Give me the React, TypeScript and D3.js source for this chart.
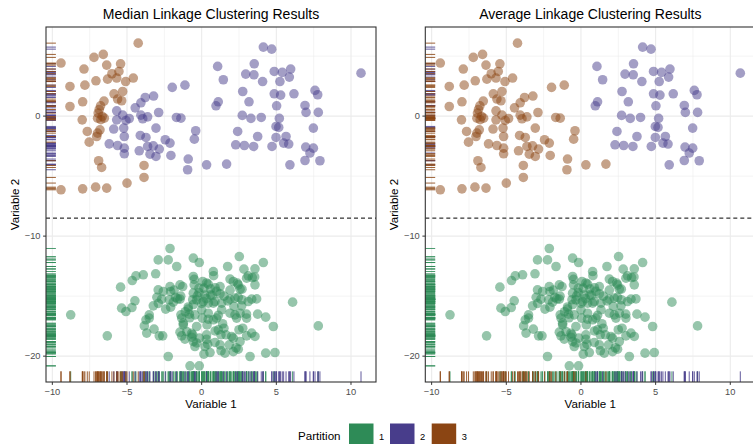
import * as d3 from "d3";
import React from "react";

// cluster 1 (green in both panels)
const greenPts: [number, number][] = [
  [-8.77, -16.56], [-6.32, -18.31], [-5.43, -14.25], [-5.36, -16.0], [-5.07, -16.28], [-4.47, -15.39],
  [-4.65, -13.7], [-4.4, -13.31], [-3.91, -13.22], [-3.84, -17.48], [-3.68, -18.08], [-3.51, -16.83],
  [-3.19, -17.75], [-3.08, -13.14], [-2.91, -11.98], [-2.91, -14.48], [-3.24, -15.81], [-2.84, -18.31],
  [-2.61, -18.31], [-2.68, -15.25], [-2.41, -16.08], [-2.24, -11.98], [-2.12, -11.03], [-2.24, -20.03],
  [-2.08, -14.61], [-2.08, -15.92], [-1.67, -12.53], [-1.45, -14.06], [-1.27, -14.2], [-1.45, -15.25],
  [-1.34, -16.83], [-1.23, -17.25], [-1.34, -18.31], [-1.12, -18.58], [-0.9, -16.08], [-0.78, -20.81],
  [-0.16, -20.81], [-0.56, -11.83], [-0.16, -12.2], [-0.56, -13.36], [-0.5, -13.6], [-0.67, -18.42],
  [-0.45, -19.2], [-0.34, -17.53], [0.15, -19.83], [0.56, -19.7], [0.33, -18.22], [0.78, -12.95],
  [0.8, -13.3], [1.23, -14.8], [1.34, -15.58], [1.74, -12.53], [1.9, -13.58], [2.52, -11.7],
  [2.83, -12.75], [3.12, -13.31], [3.57, -12.72], [4.13, -12.2], [3.57, -14.06], [3.68, -15.23],
  [3.75, -16.5], [4.29, -16.75], [4.8, -17.53], [6.09, -15.5], [7.81, -17.48], [4.29, -19.75],
  [4.91, -19.7], [3.24, -20.03], [2.12, -19.62], [2.45, -19.42], [1.56, -19.75], [3.57, -18.36],
  [3.35, -18.08], [2.75, -17.67], [3.01, -18.31], [2.01, -18.36], [1.63, -18.22], [2.12, -18.5],
  [2.57, -18.78], [1.85, -19.06], [1.23, -19.06], [0.89, -18.86], [1.29, -18.22], [1.49, -17.67],
  [1.11, -17.81], [0.78, -16.97], [1.0, -16.83], [0.44, -16.92], [0.04, -16.83], [0.78, -15.58],
  [0.45, -15.58], [0.11, -15.45], [-0.34, -15.31], [-0.18, -14.7], [0.15, -14.33], [0.44, -14.0],
  [-0.18, -14.33], [0.2, -14.9], [0.6, -14.89], [0.89, -15.45], [1.23, -14.2], [1.9, -15.25],
  [2.23, -15.17], [2.23, -16.56], [2.34, -16.83], [3.01, -16.83], [2.68, -15.81], [2.57, -16.42],
  [3.12, -15.45], [3.35, -15.25], [2.57, -14.42], [2.7, -14.42], [2.39, -13.92], [2.12, -13.78],
  [3.01, -13.5], [3.39, -13.45], [2.16, -15.86], [1.9, -16.42], [1.34, -16.14], [1.11, -16.6],
  [0.44, -16.42], [0.0, -16.14], [-0.45, -16.56], [-0.83, -16.5], [-1.1, -16.3], [-0.6, -15.3],
  [-0.56, -14.75], [-0.3, -15.0], [-0.56, -15.7], [-0.9, -15.9], [0.07, -13.78], [0.33, -13.9],
  [0.6, -14.4], [0.9, -14.3], [1.0, -14.6], [0.7, -14.95], [-2.12, -14.2], [-1.85, -14.5],
  [-1.75, -15.1], [-1.9, -15.5], [-2.9, -15.6], [-3.0, -15.1], [-1.23, -17.4], [-1.0, -17.95],
  [-0.67, -18.1], [-0.56, -18.78], [-0.34, -18.9], [-0.15, -18.5], [0.33, -18.6], [0.22, -19.2],
  [-2.57, -14.61], [-0.5, -14.06], [-2.17, -15.31], [-1.61, -15.23], [-1.4, -15.0], [-4.67, -15.95],
  [-3.51, -16.56], [-3.73, -16.97], [-1.39, -16.56], [-1.45, -18.0], [-0.6, -18.22], [-0.8, -16.8],
  [3.55, -13.4], [2.45, -14.06], [1.9, -14.5], [1.5, -15.0], [2.45, -15.1], [2.7, -15.3],
  [0.3, -15.2], [0.0, -15.6], [1.75, -15.4], [3.0, -16.5], [1.4, -17.3], [0.36, -17.4],
  [0.9, -17.9], [2.5, -17.8], [2.3, -19.3], [1.3, -19.55], [0.4, -19.0],
];

// purple in both panels
const purplePts: [number, number][] = [
  [4.13, 5.75], [4.69, 5.58], [10.67, 3.58], [1.07, 4.14], [3.52, 4.36], [2.95, 3.5], [3.5, 3.44],
  [1.45, 3.03], [4.08, 2.88], [4.86, 3.72], [5.4, 3.64], [5.96, 3.92], [5.24, 2.88], [5.87, 3.25],
  [2.75, 2.05], [4.86, 1.86], [5.29, 1.75], [6.18, 1.86], [7.59, 2.14], [7.77, 1.78], [3.17, 1.19],
  [1.11, 1.19], [0.96, 0.86], [5.02, 0.86], [6.92, 0.89], [6.99, 0.31], [7.81, 0.31], [2.72, 0.06],
  [3.3, -0.19], [3.99, -0.11], [5.2, -0.19], [4.98, -0.86], [5.16, -0.94], [7.48, -1.0], [2.41, -1.28],
  [3.75, -1.7], [4.98, -1.78], [5.65, -1.7], [2.28, -2.39], [2.86, -2.45], [3.48, -2.53], [4.71, -2.53],
  [5.49, -2.25], [5.83, -2.33], [6.97, -2.58], [7.48, -2.67], [7.25, -3.08], [6.92, -3.7], [7.92, -3.72],
  [5.91, -4.06],
];

// purple under median linkage, brown under average linkage
const switchPts: [number, number][] = [
  [-3.78, 1.55], [-3.22, 1.67], [-4.07, 1.11], [-4.45, 0.69], [-5.69, 0.44], [-5.29, 0.08], [-4.85, -0.2],
  [-4.07, 0.08], [-3.62, -0.06], [-2.88, 0.3], [-1.69, -0.11], [-1.39, -0.17], [-5.69, -0.31], [-5.07, -0.36],
  [-3.95, -0.22], [-5.89, -1.08], [-5.22, -1.0], [-4.11, -1.61], [-3.73, -1.78], [-3.06, -1.0], [-5.18, -1.7],
  [-6.19, -2.31], [-5.63, -2.45], [-5.18, -2.67], [-5.18, -3.14], [-4.18, -2.89], [-3.62, -2.53], [-3.46, -3.17],
  [-3.06, -3.36], [-2.84, -2.75], [-2.44, -1.97], [-2.12, -2.25], [-3.24, -2.48], [-1.12, 2.58], [-1.97, 2.39],
  [-0.4, -1.22], [-0.49, -1.92], [0.33, -4.06], [-0.9, -3.58], [-0.94, -4.47], [-2.06, -3.28], [1.67, -4.0],
];

// brown in both panels
const brownPts: [number, number][] = [
  [-4.25, 6.08], [-9.42, 4.42], [-7.21, 4.89], [-6.59, 5.14], [-6.36, 4.25], [-7.88, 3.92], [-5.43, 4.36],
  [-6.01, 3.53], [-5.54, 3.72], [-6.3, 3.08], [-5.69, 3.17], [-5.09, 2.88], [-4.58, 3.17], [-7.08, 2.94],
  [-8.82, 2.47], [-7.82, 2.58], [-5.87, 1.86], [-5.29, 2.05], [-5.63, 1.42], [-5.36, 1.28], [-7.97, 1.19],
  [-6.54, 1.25], [-8.82, 0.8], [-6.77, 0.86], [-6.93, 0.25], [-6.66, -0.03], [-6.97, -0.17], [-8.0, -0.31],
  [-6.52, -0.17], [-6.81, -1.14], [-6.97, -1.42], [-7.66, -1.28], [-7.53, -2.17], [-7.03, -1.7], [-6.9, -3.72],
  [-6.7, -4.28], [-3.86, -4.11], [-3.86, -5.11], [-5.0, -5.58], [-9.42, -6.14], [-7.97, -6.06], [-7.1, -5.92],
  [-6.36, -6.0], [-6.86, 0.55], [-6.75, -0.3],
];

const partitions = ["1", "2", "3"];
const partitionColors = ["#2E8B57", "#483D8B", "#8B4513"];
const panelTitles = ["Median Linkage Clustering Results", "Average Linkage Clustering Results"];
const xTicks = [-10, -5, 0, 5, 10];
const yTicks = [-20, -10, 0];
const cutHeight = -8.5;

type Pt = { x: number; y: number; median: string; average: string };

const points: Pt[] = [
  ...greenPts.map(([x, y]) => ({ x, y, median: "1", average: "1" })),
  ...purplePts.map(([x, y]) => ({ x, y, median: "2", average: "2" })),
  ...switchPts.map(([x, y]) => ({ x, y, median: "2", average: "3" })),
  ...brownPts.map(([x, y]) => ({ x, y, median: "3", average: "3" })),
];

const W = 753;
const H = 444;
const panelW = 330;
const panelTop = 27;
const panelH = 355;
const panelLefts = [46, 425.3];
const font = "'Liberation Sans', Arial, Helvetica, sans-serif";

const color = d3.scaleOrdinal<string, string>().domain(partitions).range(partitionColors);

function expand([lo, hi]: [number, number]): [number, number] {
  const pad = (hi - lo) * 0.05;
  return [lo - pad, hi + pad];
}

const x = d3
  .scaleLinear()
  .domain(expand(d3.extent(points, (d) => d.x) as [number, number]))
  .range([0, panelW]);
const y = d3
  .scaleLinear()
  .domain(expand(d3.extent(points, (d) => d.y) as [number, number]))
  .range([panelH, 0]);

const minorOf = (ticks: number[], scale: d3.ScaleLinear<number, number>) => {
  const step = ticks[1] - ticks[0];
  const [lo, hi] = scale.domain();
  return [ticks[0] - step / 2, ...ticks.map((t) => t + step / 2)].filter((v) => v > lo && v < hi);
};
const xMinor = minorOf(xTicks, x);
const yMinor = minorOf(yTicks, y);

const fmt = (v: number) => (v < 0 ? "\u2212" + Math.abs(v) : String(v));

function Panel({ left, title, part }: { left: number; title: string; part: "median" | "average" }) {
  const rugLenX = panelW * 0.03;
  const rugLenY = panelH * 0.03;
  return (
    <g transform={`translate(${left},${panelTop})`}>
      <rect width={panelW} height={panelH} fill="white" />
      {xMinor.map((v) => (
        <line key={"xm" + v} x1={x(v)} x2={x(v)} y1={0} y2={panelH} stroke="#EBEBEB" strokeWidth={0.55} />
      ))}
      {yMinor.map((v) => (
        <line key={"ym" + v} x1={0} x2={panelW} y1={y(v)} y2={y(v)} stroke="#EBEBEB" strokeWidth={0.55} />
      ))}
      {xTicks.map((v) => (
        <line key={"xg" + v} x1={x(v)} x2={x(v)} y1={0} y2={panelH} stroke="#EBEBEB" strokeWidth={1.1} />
      ))}
      {yTicks.map((v) => (
        <line key={"yg" + v} x1={0} x2={panelW} y1={y(v)} y2={y(v)} stroke="#EBEBEB" strokeWidth={1.1} />
      ))}
      {points.map((d, i) => (
        <circle key={"p" + i} cx={x(d.x)} cy={y(d.y)} r={4.8} fill={color(d[part])} fillOpacity={0.5} />
      ))}
      {points.map((d, i) => (
        <line
          key={"rx" + i}
          x1={x(d.x)}
          x2={x(d.x)}
          y1={panelH}
          y2={panelH - rugLenY}
          stroke={color(d[part])}
          strokeWidth={1}
          strokeOpacity={0.85}
        />
      ))}
      {points.map((d, i) => (
        <line
          key={"ry" + i}
          x1={0}
          x2={rugLenX}
          y1={y(d.y)}
          y2={y(d.y)}
          stroke={color(d[part])}
          strokeWidth={1}
          strokeOpacity={0.85}
        />
      ))}
      <line x1={0} x2={panelW} y1={y(cutHeight)} y2={y(cutHeight)} stroke="black" strokeWidth={1} strokeDasharray="4,3" />
      <rect width={panelW} height={panelH} fill="none" stroke="#333333" strokeWidth={1.1} />
      {xTicks.map((v) => (
        <g key={"xt" + v} transform={`translate(${x(v)},${panelH})`}>
          <line y1={0} y2={2.9} stroke="#333333" strokeWidth={1} />
          <text y={12.5} textAnchor="middle" fontSize={9.3} fill="#4D4D4D" fontFamily={font}>
            {fmt(v)}
          </text>
        </g>
      ))}
      {yTicks.map((v) => (
        <g key={"yt" + v} transform={`translate(0,${y(v)})`}>
          <line x1={-2.9} x2={0} stroke="#333333" strokeWidth={1} />
          <text x={-5.5} y={3.3} textAnchor="end" fontSize={9.3} fill="#4D4D4D" fontFamily={font}>
            {fmt(v)}
          </text>
        </g>
      ))}
      <text x={panelW / 2} y={-8} textAnchor="middle" fontSize={14} fontFamily={font} fill="black">
        {title}
      </text>
      <text x={panelW / 2} y={panelH + 26} textAnchor="middle" fontSize={11.6} fontFamily={font} fill="black">
        Variable 1
      </text>
      <text
        transform={`translate(-27,${panelH / 2}) rotate(-90)`}
        textAnchor="middle"
        fontSize={11.6}
        fontFamily={font}
        fill="black"
      >
        Variable 2
      </text>
    </g>
  );
}

export default function App() {
  const legendX = [349, 390, 431.7];
  return (
    <svg width={W} height={H} style={{ position: "absolute", left: 0, top: 0, background: "white" }}>
      <rect width={W} height={H} fill="white" />
      <Panel left={panelLefts[0]} title={panelTitles[0]} part="median" />
      <Panel left={panelLefts[1]} title={panelTitles[1]} part="average" />
      <text x={298} y={440} fontSize={11.6} fontFamily={font} fill="black">
        Partition
      </text>
      {partitions.map((p, i) => (
        <g key={p}>
          <rect x={legendX[i]} y={423.5} width={24.5} height={24} fill={color(p)} />
          <text x={legendX[i] + 30} y={439.5} fontSize={9.3} fontFamily={font} fill="black">
            {p}
          </text>
        </g>
      ))}
    </svg>
  );
}
